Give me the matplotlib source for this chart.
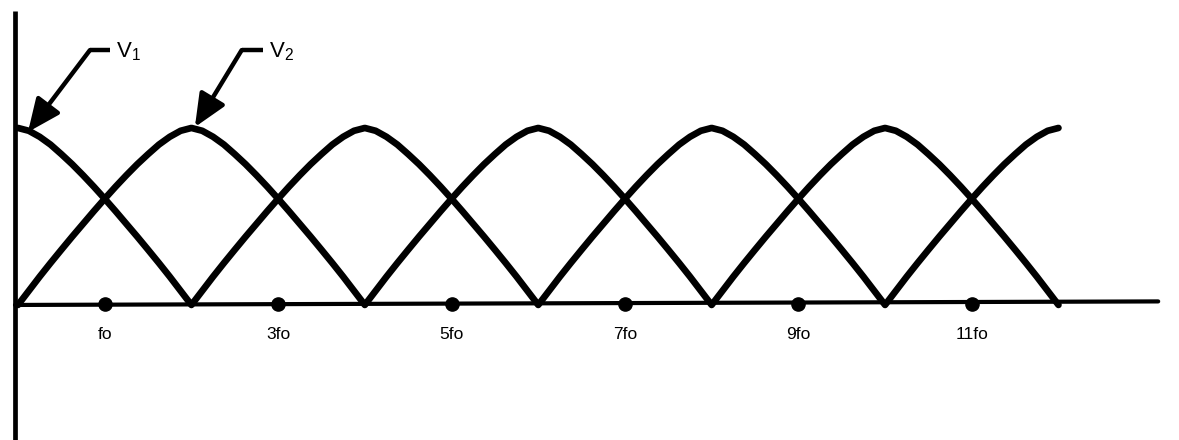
import matplotlib
matplotlib.use("Agg")
import matplotlib.pyplot as plt

plt.rcParams["font.family"] = ["Liberation Sans", "DejaVu Sans"]

# one half of an arch: distance from the zero (in fo)
# and the height relative to the peak
ARCH_X = [0.0, 0.125, 0.25, 0.375, 0.5, 0.625, 0.75, 0.875, 1.0,
          1.125, 1.25, 1.375, 1.5, 1.625, 1.75, 1.875, 2.0]
ARCH_Y = [0.0, 0.08, 0.16, 0.237, 0.312, 0.386, 0.458, 0.53, 0.60,
          0.668, 0.733, 0.795, 0.852, 0.906, 0.95, 0.984, 1.0]

V1_PEAKS = [0, 4, 8, 12]
V2_PEAKS = [2, 6, 10]
X_START, X_END = 0, 12

DOT_X = [1, 3, 5, 7, 9, 11]
DOT_LABELS = ["fo", "3fo", "5fo", "7fo", "9fo", "11fo"]


def build_curve(peaks):
    xs, ys = [], []
    for p in peaks:
        rise = [(p - 2 + a, h) for a, h in zip(ARCH_X, ARCH_Y)]
        fall = [(p + 2 - a, h) for a, h in zip(ARCH_X[::-1], ARCH_Y[::-1])][1:]
        for x, y in rise + fall:
            if X_START <= x <= X_END and (not xs or x > xs[-1]):
                xs.append(x)
                ys.append(y)
    return xs, ys


def main():
    fig = plt.figure(figsize=(11.79, 4.4), dpi=100)
    ax = fig.add_axes([0, 0, 1, 1])
    ax.set_xlim(-0.2076, 13.39)
    ax.set_ylim(-0.763, 1.723)
    ax.axis("off")

    # axes drawn by hand like the sketch
    ax.plot([-0.035, -0.035], [-0.8, 1.66], color="black", lw=3.4,
            solid_capstyle="butt")
    ax.plot([-0.035, 13.15], [0, 0.02], color="black", lw=3.0,
            solid_capstyle="round")

    for peaks in (V1_PEAKS, V2_PEAKS):
        xs, ys = build_curve(peaks)
        ax.plot(xs, ys, color="black", lw=4.8, solid_joinstyle="round",
                solid_capstyle="round")

    ax.plot(DOT_X, [0.005] * len(DOT_X), "o", color="black", ms=9.5)
    for x, lab in zip(DOT_X, DOT_LABELS):
        ax.text(x, -0.165, lab, ha="center", va="center", fontsize=12.5)

    # callouts
    for (h0, tip, lab) in (
        ((0.83, 1.06), (0.115, 0.977), "$\\mathregular{V_1}$"),
        ((2.58, 2.83), (2.04, 1.005), "$\\mathregular{V_2}$"),
    ):
        ax.plot([h0[0], h0[1]], [1.44, 1.44], color="black", lw=3.2,
                solid_capstyle="butt")
        ax.annotate("", xy=tip, xytext=(h0[0], 1.44),
                    arrowprops=dict(arrowstyle="-|>,head_length=0.5,head_width=0.22",
                                    lw=3.2, color="black",
                                    mutation_scale=40, shrinkA=0, shrinkB=0))
        ax.text(h0[1] + 0.07, 1.43, lab, ha="left", va="center", fontsize=16)

    fig.savefig("out.png", dpi=100)


if __name__ == "__main__":
    main()
